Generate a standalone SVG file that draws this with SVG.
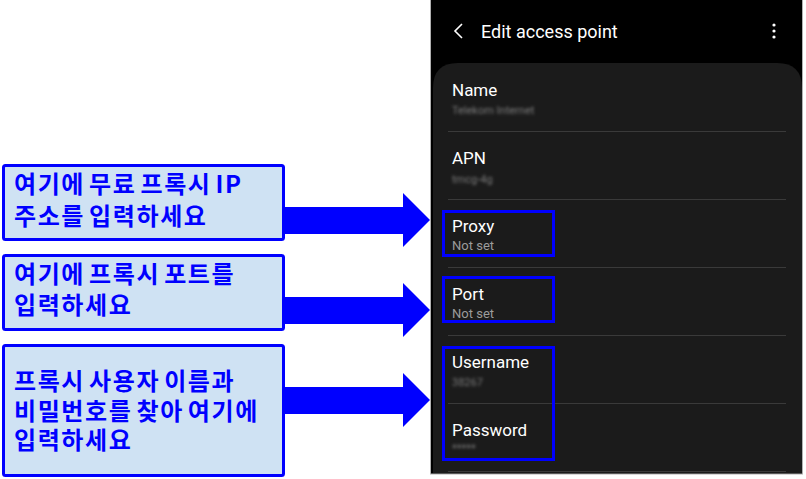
<svg xmlns="http://www.w3.org/2000/svg" width="806" height="479" viewBox="0 0 806 479">
<defs>
<style>
.callout rect{fill:#cfe2f3;stroke:#0000ff;stroke-width:3}
.callout text{font-family:"Noto Sans CJK KR","Noto Sans",sans-serif;font-weight:bold;font-size:24px;letter-spacing:1.6px;word-spacing:-3px;fill:#0000ff}
.arrow{fill:#0000ff}
.hl{fill:none;stroke:#0000ff;stroke-width:3}
.ttl{font-family:Roboto,"Liberation Sans",sans-serif;font-size:17px;fill:#ffffff}
.sub{font-family:Roboto,"Liberation Sans",sans-serif;font-size:13px;fill:#9c9c9c}
.blur{font-family:Roboto,"Liberation Sans",sans-serif;font-size:11px;fill:#7a7a7a}
.div{stroke:#3a3a3a;stroke-width:1}
</style>
<filter id="bl" x="-20%" y="-80%" width="140%" height="260%"><feGaussianBlur stdDeviation="1.6"/></filter>
</defs>
<rect width="806" height="479" fill="#ffffff"/>
<g id="phone">
<rect x="430.5" y="-1" width="372" height="475" fill="#000000" stroke="#b0b0b0" stroke-width="1"/>
<path d="M433 473 V88 Q433 63 458 63 H777 Q802 63 802 88 V473 Z" fill="#1b1b1b"/>
<path d="M462 24 L455 31 L462 38" fill="none" stroke="#ffffff" stroke-width="1.6"/>
<text x="481" y="38" font-family="Roboto,'Liberation Sans',sans-serif" font-size="18" fill="#ffffff">Edit access point</text>
<circle cx="774" cy="25" r="1.6" fill="#fff"/><circle cx="774" cy="31" r="1.6" fill="#fff"/><circle cx="774" cy="37" r="1.6" fill="#fff"/>
<line class="div" x1="448" y1="131.5" x2="786" y2="131.5"/>
<line class="div" x1="448" y1="199.5" x2="786" y2="199.5"/>
<line class="div" x1="448" y1="267.5" x2="786" y2="267.5"/>
<line class="div" x1="448" y1="335.5" x2="786" y2="335.5"/>
<line class="div" x1="448" y1="403.5" x2="786" y2="403.5"/>
<line class="div" x1="448" y1="471.5" x2="786" y2="471.5"/>
<text class="ttl" x="452" y="96">Name</text>
<text class="ttl" x="452" y="164">APN</text>
<text class="ttl" x="452" y="232">Proxy</text>
<text class="sub" x="452" y="250">Not set</text>
<text class="ttl" x="452" y="300">Port</text>
<text class="sub" x="452" y="318">Not set</text>
<text class="ttl" x="452" y="368">Username</text>
<text class="ttl" x="452" y="436">Password</text>
<g filter="url(#bl)">
<text class="blur" x="452" y="114">Telekom Internet</text>
<text class="blur" x="452" y="183">tmcg-4g</text>
<text class="blur" x="452" y="386">38267</text>
<text class="blur" x="452" y="452">*****</text>
</g>
</g>
<g id="hl-proxy"><rect class="hl" x="443.5" y="211.5" width="110" height="44"/></g>
<g id="hl-port"><rect class="hl" x="443.5" y="277.5" width="110" height="44"/></g>
<g id="hl-user"><rect class="hl" x="443.5" y="347.5" width="110" height="112"/></g>
<g id="connectors">
<polygon class="arrow" points="284,207 403,207 403,193 430,220 403,247 403,234 284,234"/>
<polygon class="arrow" points="284,297 403,297 403,283 430,310 403,337 403,324 284,324"/>
<polygon class="arrow" points="284,387 403,387 403,373 430,400 403,427 403,414 284,414"/>
</g>
<g id="callout-ip" class="callout">
<rect x="3.5" y="165.5" width="280" height="74" rx="2"/>
<text x="14" y="193">여기에 무료 프록시 IP</text>
<text x="14" y="225">주소를 입력하세요</text>
</g>
<g id="callout-port" class="callout">
<rect x="3.5" y="255.5" width="280" height="74" rx="2"/>
<text x="14" y="283">여기에 프록시 포트를</text>
<text x="14" y="314">입력하세요</text>
</g>
<g id="callout-user" class="callout">
<rect x="3.5" y="345.5" width="280" height="130" rx="2"/>
<text x="14" y="390">프록시 사용자 이름과</text>
<text x="14" y="420">비밀번호를 찾아 여기에</text>
<text x="14" y="449">입력하세요</text>
</g>
</svg>
